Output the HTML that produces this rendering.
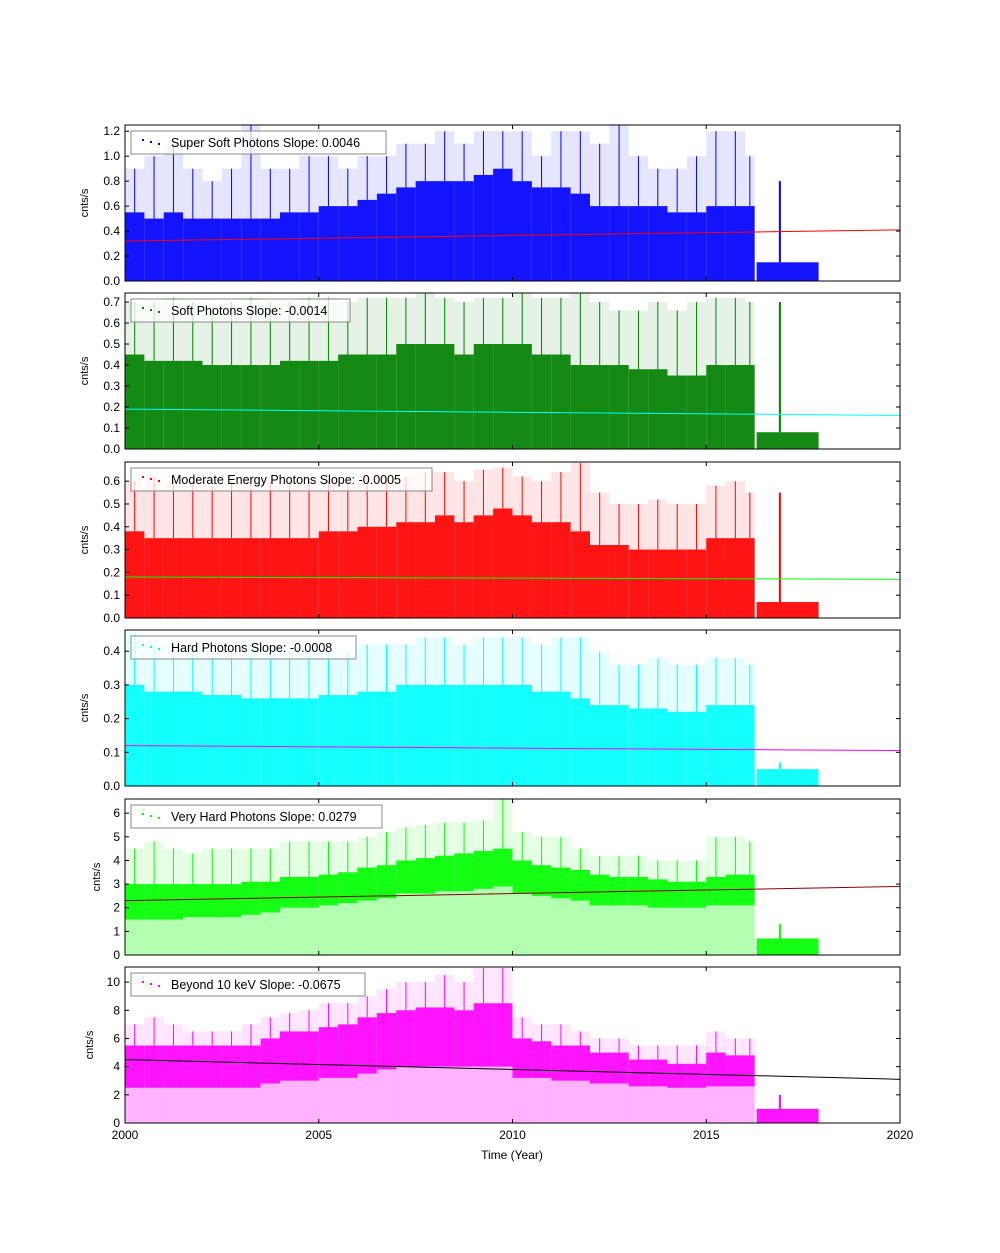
<!DOCTYPE html>
<html><head><meta charset="utf-8"><style>
body{margin:0;background:#fff}
svg text{font-family:"Liberation Sans",sans-serif}
</style></head><body>
<svg id="chart" width="1000" height="1248" xmlns="http://www.w3.org/2000/svg"></svg>
<script>
// bin start years (dense bins half-year, gap, late segment)
const binStarts = [2000,2000.5,2001,2001.5,2002,2002.5,2003,2003.5,2004,2004.5,2005,2005.5,2006,2006.5,2007,2007.5,2008,2008.5,2009,2009.5,2010,2010.5,2011,2011.5,2012,2012.5,2013,2013.5,2014,2014.5,2015,2015.5,2016,2016.25,2016.3];
const binLastEnd = 2017.9;
const xTicks = [2000,2005,2010,2015,2020];

const ssLo = new Array(35).fill(0);
const ssHi = [0.55,0.5,0.55,0.5,0.5,0.5,0.5,0.5,0.55,0.55, 0.6,0.6,0.65,0.7,0.75,0.8,0.8,0.8,0.85,0.9, 0.8,0.75,0.75,0.7,0.6,0.6,0.6,0.6,0.55,0.55, 0.6,0.6,0.6,0,0.15];
const ssPeak = [0.9,1.0,1.1,0.9,0.8,0.9,1.25,0.9,0.9,1.0, 1.0,0.9,1.0,1.0,1.1,1.1,1.2,1.1,1.2,1.2, 1.2,1.0,1.2,1.2,1.1,1.25,1.0,0.9,0.9,1.0, 1.2,1.2,1.0,0,0.8];
const ssTrend = [0.32,0.41];

const sLo = new Array(35).fill(0);
const sHi = [0.45,0.42,0.42,0.42,0.4,0.4,0.4,0.4,0.42,0.42, 0.42,0.45,0.45,0.45,0.5,0.5,0.5,0.45,0.5,0.5, 0.5,0.45,0.45,0.4,0.4,0.4,0.38,0.38,0.35,0.35, 0.4,0.4,0.4,0,0.08];
const sPeak = [0.7,0.7,0.72,0.7,0.68,0.7,0.72,0.7,0.7,0.72, 0.72,0.7,0.72,0.72,0.72,0.74,0.72,0.7,0.72,0.72, 0.74,0.72,0.72,0.74,0.7,0.66,0.66,0.7,0.66,0.7, 0.72,0.72,0.7,0,0.7];
const sTrend = [0.19,0.16];

const mLo = new Array(35).fill(0);
const mHi = [0.38,0.35,0.35,0.35,0.35,0.35,0.35,0.35,0.35,0.35, 0.38,0.38,0.4,0.4,0.42,0.42,0.45,0.42,0.45,0.48, 0.45,0.42,0.42,0.38,0.32,0.32,0.3,0.3,0.3,0.3, 0.35,0.35,0.35,0,0.07];
const mPeak = [0.6,0.62,0.6,0.6,0.58,0.6,0.62,0.6,0.6,0.6, 0.6,0.6,0.62,0.62,0.62,0.64,0.64,0.6,0.65,0.66, 0.62,0.6,0.64,0.68,0.55,0.5,0.5,0.52,0.5,0.5, 0.58,0.6,0.55,0,0.55];
const mTrend = [0.18,0.17];

const hLo = new Array(35).fill(0);
const hHi = [0.3,0.28,0.28,0.28,0.27,0.27,0.26,0.26,0.26,0.26, 0.27,0.27,0.28,0.28,0.3,0.3,0.3,0.3,0.3,0.3, 0.3,0.28,0.28,0.26,0.24,0.24,0.23,0.23,0.22,0.22, 0.24,0.24,0.24,0,0.05];
const hPeak = [0.45,0.42,0.42,0.4,0.38,0.4,0.42,0.4,0.4,0.4, 0.4,0.4,0.42,0.42,0.42,0.44,0.44,0.42,0.44,0.44, 0.44,0.42,0.44,0.44,0.4,0.36,0.36,0.38,0.36,0.36, 0.38,0.38,0.36,0,0.07];
const hTrend = [0.12,0.105];

const vLo = [1.5,1.5,1.5,1.6,1.6,1.6,1.7,1.8,2.0,2.0, 2.1,2.2,2.3,2.4,2.6,2.6,2.7,2.7,2.8,2.9, 2.6,2.5,2.4,2.3,2.1,2.1,2.1,2.0,2.0,2.0, 2.1,2.1,2.1,0,0];
const vHi = [3.0,3.0,3.0,3.0,3.0,3.0,3.1,3.1,3.3,3.3, 3.4,3.5,3.7,3.8,4.0,4.1,4.2,4.3,4.4,4.5, 4.0,3.8,3.7,3.6,3.4,3.3,3.3,3.2,3.1,3.1, 3.3,3.4,3.4,0,0.7];
const vPeak = [4.5,4.8,4.5,4.3,4.5,4.5,4.5,4.5,4.8,4.8, 4.8,4.8,5.0,5.2,5.4,5.5,5.6,5.6,5.7,6.7, 5.2,5.0,5.0,4.5,4.2,4.2,4.2,4.0,4.0,4.0, 5.0,5.0,4.8,0,1.3];
const vTrend = [2.3,2.9];

const bLo = [2.5,2.5,2.5,2.5,2.5,2.5,2.5,2.8,3.0,3.0, 3.2,3.2,3.5,3.8,4.0,4.0,4.0,4.0,4.0,4.0, 3.2,3.2,3.0,3.0,2.8,2.8,2.6,2.6,2.5,2.5, 2.6,2.6,2.6,0,0];
const bHi = [5.5,5.5,5.5,5.5,5.5,5.5,5.5,6.0,6.5,6.5, 6.8,7.0,7.5,7.8,8.0,8.2,8.2,8.0,8.5,8.5, 6.0,5.8,5.5,5.5,5.0,5.0,4.5,4.5,4.2,4.2, 5.0,4.8,4.8,0,1.0];
const bPeak = [7,7.5,7,6.5,6.5,6.5,7,7.5,7.8,8, 8.5,8.5,9,9.5,10,10,10.5,10,11,11, 7.5,7,7,6.5,6,6,5.5,5.5,5.5,5.5, 6.5,6,6,0,2];
const bTrend = [4.5,3.1];

const panels = [
 {name:'super-soft',label:'Super Soft Photons Slope: 0.0046',color:'#0000ff',tcolor:'#ff0000',top:125,ymax:1.25,ticks:[0,0.2,0.4,0.6,0.8,1.0,1.2],dec:1,lo:ssLo,hi:ssHi,pk:ssPeak,tr:ssTrend,lw:255,ylx:88},
 {name:'soft',label:'Soft Photons Slope: -0.0014',color:'#008000',tcolor:'#00ffff',top:293,ymax:0.743,ticks:[0,0.1,0.2,0.3,0.4,0.5,0.6,0.7],dec:1,lo:sLo,hi:sHi,pk:sPeak,tr:sTrend,lw:219,ylx:88},
 {name:'moderate',label:'Moderate Energy Photons Slope: -0.0005',color:'#ff0000',tcolor:'#00ff00',top:462,ymax:0.684,ticks:[0,0.1,0.2,0.3,0.4,0.5,0.6],dec:1,lo:mLo,hi:mHi,pk:mPeak,tr:mTrend,lw:301,ylx:88},
 {name:'hard',label:'Hard Photons Slope: -0.0008',color:'#00ffff',tcolor:'#ff00ff',top:630,ymax:0.463,ticks:[0,0.1,0.2,0.3,0.4],dec:1,lo:hLo,hi:hHi,pk:hPeak,tr:hTrend,lw:225,ylx:88},
 {name:'very-hard',label:'Very Hard Photons Slope: 0.0279',color:'#00ff00',tcolor:'#8b0000',top:799,ymax:6.6,ticks:[0,1,2,3,4,5,6],dec:0,lo:vLo,hi:vHi,pk:vPeak,tr:vTrend,lw:251,ylx:100},
 {name:'beyond-10kev',label:'Beyond 10 keV Slope: -0.0675',color:'#ff00ff',tcolor:'#000000',top:967,ymax:11.07,ticks:[0,2,4,6,8,10],dec:0,lo:bLo,hi:bHi,pk:bPeak,tr:bTrend,lw:234,ylx:93}
];
const X0=125,X1=900,PH=156;
const svg=document.getElementById('chart');
const NS='http://www.w3.org/2000/svg';
function xs(yr){return X0+(yr-2000)/20*(X1-X0);}
function mk(tag,attrs,parent){const e=document.createElementNS(NS,tag);for(const k in attrs)e.setAttribute(k,attrs[k]);(parent||svg).appendChild(e);return e;}

panels.forEach((p,pi)=>{
  const ys=v=>p.top+PH-v/p.ymax*PH;
  const g=mk('g',{});
  
  
  const clipId='c'+pi;
  const cp=mk('clipPath',{id:clipId},g);mk('rect',{x:X0,y:p.top,width:X1-X0,height:PH},cp);
  const dg=mk('g',{'clip-path':'url(#'+clipId+')'},g);
  
  
  for(let i=0;i<binStarts.length;i++){
    const xa=xs(binStarts[i]), xb=xs(i+1<binStarts.length?binStarts[i+1]:binLastEnd);
    if(p.hi[i]<=0)continue;
    const late = i===binStarts.length-1;
    if(p.lo[i]>0){const r=mk('rect',{x:xa,y:ys(p.lo[i]),width:xb-xa,height:ys(0)-ys(p.lo[i]),fill:p.color,opacity:0.3},dg);
      }
    const d=mk('rect',{x:xa,y:ys(p.hi[i]),width:xb-xa,height:ys(p.lo[i])-ys(p.hi[i]),fill:p.color,opacity:0.92},dg);
    
    
    if(!late){
      const s=mk('rect',{x:xa,y:ys(p.pk[i]),width:xb-xa,height:ys(p.hi[i])-ys(p.pk[i]),fill:p.color,opacity:0.1},dg);
      
      
    }
    const sx = late ? xs(2016.9) : (xa+xb)/2;
    const sp=mk('line',{x1:sx,x2:sx,y1:ys(p.pk[i]),y2:ys(p.hi[i]),stroke:p.color,'stroke-width':late?2:1},dg);
    
    
  }
  const tl=mk('line',{x1:xs(2000),x2:xs(2020),y1:ys(p.tr[0]),y2:ys(p.tr[1]),stroke:p.tcolor,'stroke-width':1},dg);
  
  
  const fr=mk('rect',{x:X0,y:p.top,width:X1-X0,height:PH,fill:'none',stroke:'#000','stroke-width':1},g);
  
  
  p.ticks.forEach(t=>{
    const y=ys(t);
    mk('line',{x1:X0,x2:X0+4,y1:y,y2:y,stroke:'#000'},g);
    mk('line',{x1:X1,x2:X1-4,y1:y,y2:y,stroke:'#000'},g);
    const tx=mk('text',{x:X0-5,y:y+4,'font-size':12,'text-anchor':'end'},g);
    tx.textContent=t.toFixed(p.dec);
    
    
  });
  xTicks.forEach(t=>{
    const x=xs(t);
    mk('line',{x1:x,x2:x,y1:p.top+PH,y2:p.top+PH-4,stroke:'#000'},g);
    mk('line',{x1:x,x2:x,y1:p.top,y2:p.top+4,stroke:'#000'},g);
  });
  const yl=mk('text',{x:p.ylx,y:p.top+PH/2,'font-size':11,'text-anchor':'middle',transform:'rotate(-90 '+p.ylx+' '+(p.top+PH/2)+')'},g);
  yl.textContent='cnts/s';
  
  
  const lg=mk('g',{},g);
  
  
  mk('rect',{x:131,y:p.top+6,width:p.lw,height:23,fill:'#fff','fill-opacity':0.75,stroke:'#888'},lg);
  [142,150,158].forEach((x,k)=>mk('rect',{x:x,y:p.top+16+(k-1)*2,width:2,height:2,fill:p.color},lg));
  const lt=mk('text',{x:171,y:p.top+22,'font-size':12.5},lg);
  lt.textContent=p.label;
  
  
});
xTicks.forEach(t=>{
  const tx=mk('text',{x:xs(t),y:1139,'font-size':12,'text-anchor':'middle'});
  tx.textContent=t;
  
  
});
const xt=mk('text',{x:512,y:1159,'font-size':12,'text-anchor':'middle'});
xt.textContent='Time (Year)';


</script>
</body></html>
